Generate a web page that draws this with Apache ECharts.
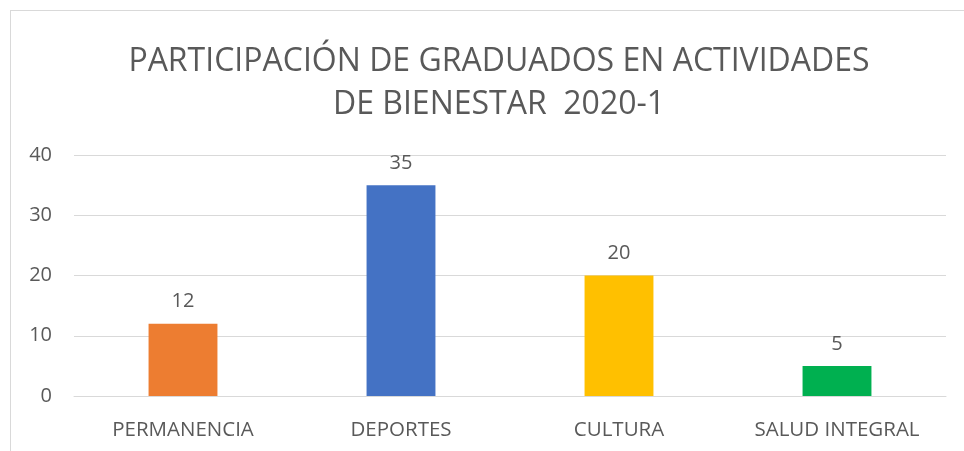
<!DOCTYPE html>
<html>
<head>
<meta charset="utf-8">
<script src="https://cdn.jsdelivr.net/npm/echarts@6/dist/echarts.min.js"></script>
<style>
  html, body { margin: 0; padding: 0; background: #fff; }
  .frame { position: absolute; left: 10px; top: 10px; width: 970px; height: 460px; border: 1px solid #d9d9d9; }
  #chart { position: absolute; left: 0; top: 0; width: 964px; height: 451px; }
</style>
</head>
<body>
<div class="frame"></div>
<div id="chart"></div>
<script>
// datos del gráfico
const categories = ['PERMANENCIA', 'DEPORTES', 'CULTURA', 'SALUD INTEGRAL'];
const values = [12, 35, 20, 5];
const barColors = ['#ED7D31', '#4472C4', '#FFC000', '#00B050'];
const yTicks = { min: 0, max: 40, interval: 10 };

const textColor = '#595959';
const fontFam = '"Open Sans", sans-serif';

const chart_option = {
  animation: false,
  title: {
    text: 'PARTICIPACIÓN DE GRADUADOS EN ACTIVIDADES\nDE BIENESTAR  2020-1',
    left: 494,
    textAlign: 'center',
    top: 35,
    textStyle: {
      color: textColor,
      fontFamily: fontFam,
      fontWeight: 'normal',
      fontSize: 32,
      lineHeight: 43
    }
  },
  grid: { left: 74, right: 18, top: 155, bottom: 55 },
  xAxis: {
    type: 'category',
    data: categories,
    axisTick: { show: false },
    axisLine: { lineStyle: { color: '#d9d9d9', width: 1 } },
    axisLabel: { color: textColor, fontFamily: fontFam, fontSize: 20.5, margin: 24 }
  },
  yAxis: {
    type: 'value',
    min: yTicks.min,
    max: yTicks.max,
    interval: yTicks.interval,
    axisLine: { show: false },
    axisTick: { show: false },
    splitLine: { lineStyle: { color: '#d9d9d9', width: 1 } },
    axisLabel: { color: textColor, fontFamily: fontFam, fontSize: 20, margin: 22 }
  },
  series: [{
    type: 'bar',
    barWidth: '31.6%',
    data: values.map((v, i) => ({ value: v, itemStyle: { color: barColors[i] } })),
    label: {
      show: true,
      position: 'top',
      distance: 12,
      color: textColor,
      fontFamily: fontFam,
      fontSize: 20
    }
  }]
};

echarts.init(document.getElementById('chart')).setOption(chart_option);
</script>
</body>
</html>
